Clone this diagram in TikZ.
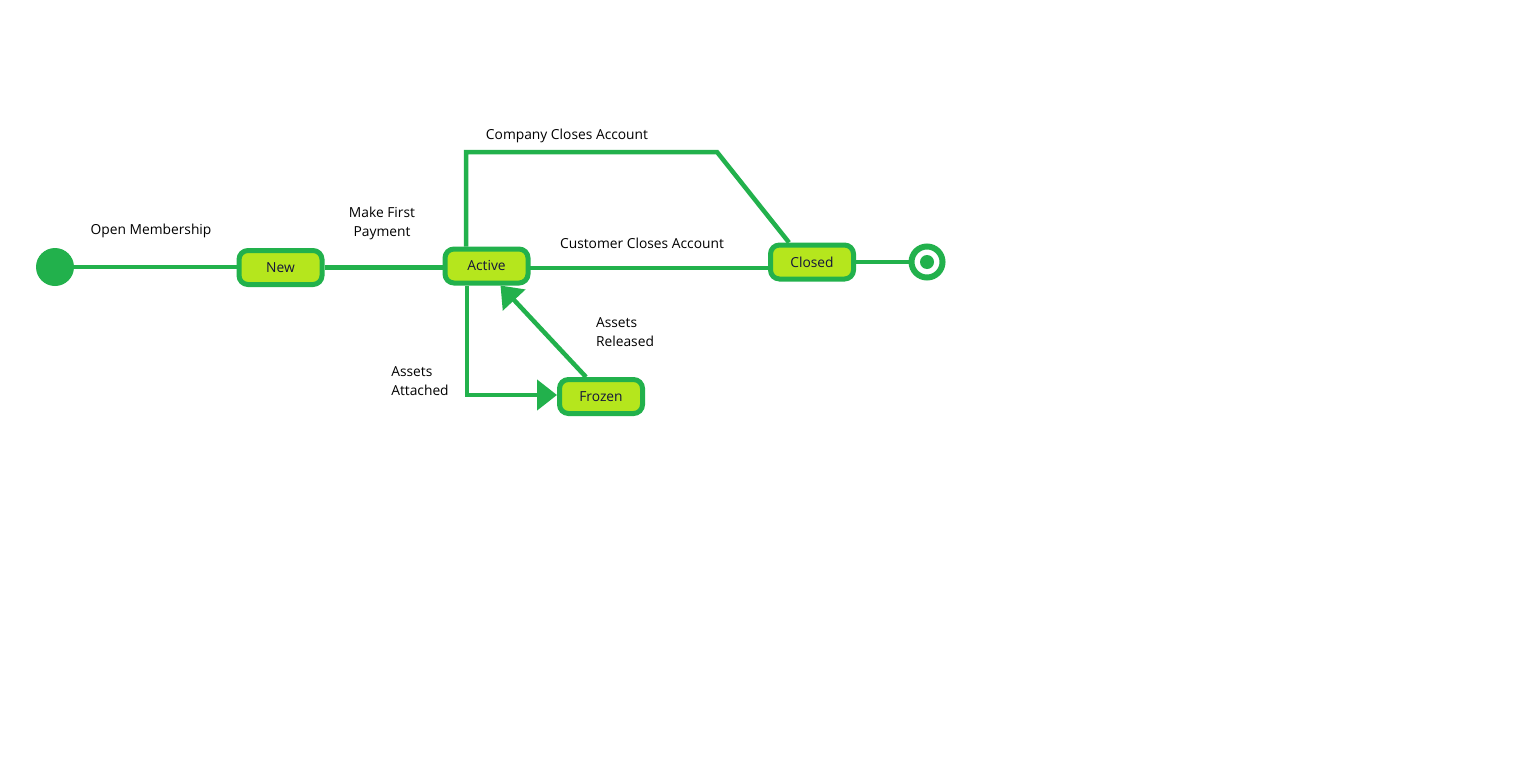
\documentclass[tikz,border=0pt]{standalone}
\usepackage{fontspec}
\setmainfont{Open Sans}
\usetikzlibrary{arrows.meta}
\definecolor{paintgreen}{RGB}{34,177,76}
\definecolor{paintlime}{RGB}{181,230,29}
\definecolor{statetext}{RGB}{20,20,60}
\begin{document}
\begin{tikzpicture}[x=1pt,y=-1pt,
    every node/.style={font=\fontsize{13.8}{19}\selectfont},
    state/.style={draw=paintgreen,fill=paintlime,line width=5pt,rounded corners=9pt,
        minimum width=83pt,minimum height=34pt,inner sep=0pt,text=statetext},
    trans/.style={draw=paintgreen,line width=4.5pt},
    bigtip/.style={-{Triangle[length=20pt,width=30pt]},paintgreen}]
    \fill[white] (0,0) rectangle (1522,760);
    \useasboundingbox (0,0) rectangle (1522,760);

    \node[circle,fill=paintgreen,minimum size=38pt,inner sep=0pt] (S) at (55,267) {};
    \node[state] (N) at (280.5,267.5) {New};
    \node[state] (A) at (486.5,266) {Active};
    \node[state] (C) at (812,262) {Closed};
    \node[state] (F) at (601,396.5) {Frozen};
    \node[circle,draw=paintgreen,fill=white,line width=6pt,minimum size=31pt,inner sep=0pt] (E) at (927,262) {};
    \node[circle,fill=paintgreen,minimum size=14pt,inner sep=0pt] (Ed) at (E) {};

    \coordinate (K1) at (466,152);
    \coordinate (K2) at (717,152);
    \coordinate (K3) at (467,395);
    \coordinate (K4) at (530,268);

    \draw[trans] (S) -- (S -| N.west);
    \draw[trans] (N.east) -- (N.east -| A.west);
    \draw[trans] (K4) -- (K4 -| C.west);
    \draw[trans] (C) -- (E);
    \draw[trans] (K1 |- A.north) -- (K1) -- (K2) -- ([xshift=-23pt]C.north);
    \draw[trans,bigtip] (K3 |- A.south) -- (K3) -- (K3 -| F.west);
    \draw[trans,bigtip] ([xshift=-15pt]F.north) -- ([xshift=14pt]A.south);

    \node (lOM) at (151,231) {Open Membership};
    \node[align=center] (lMP) at (382,223.5) {Make First\\Payment};
    \node (lCo) at (567,136) {Company Closes Account};
    \node (lCu) at (642,243) {Customer Closes Account};
    \node[align=left] (lAR) at (625,332.5) {Assets\\Released};
    \node[align=left] (lAA) at (420,381.5) {Assets\\Attached};
\end{tikzpicture}
\end{document}
